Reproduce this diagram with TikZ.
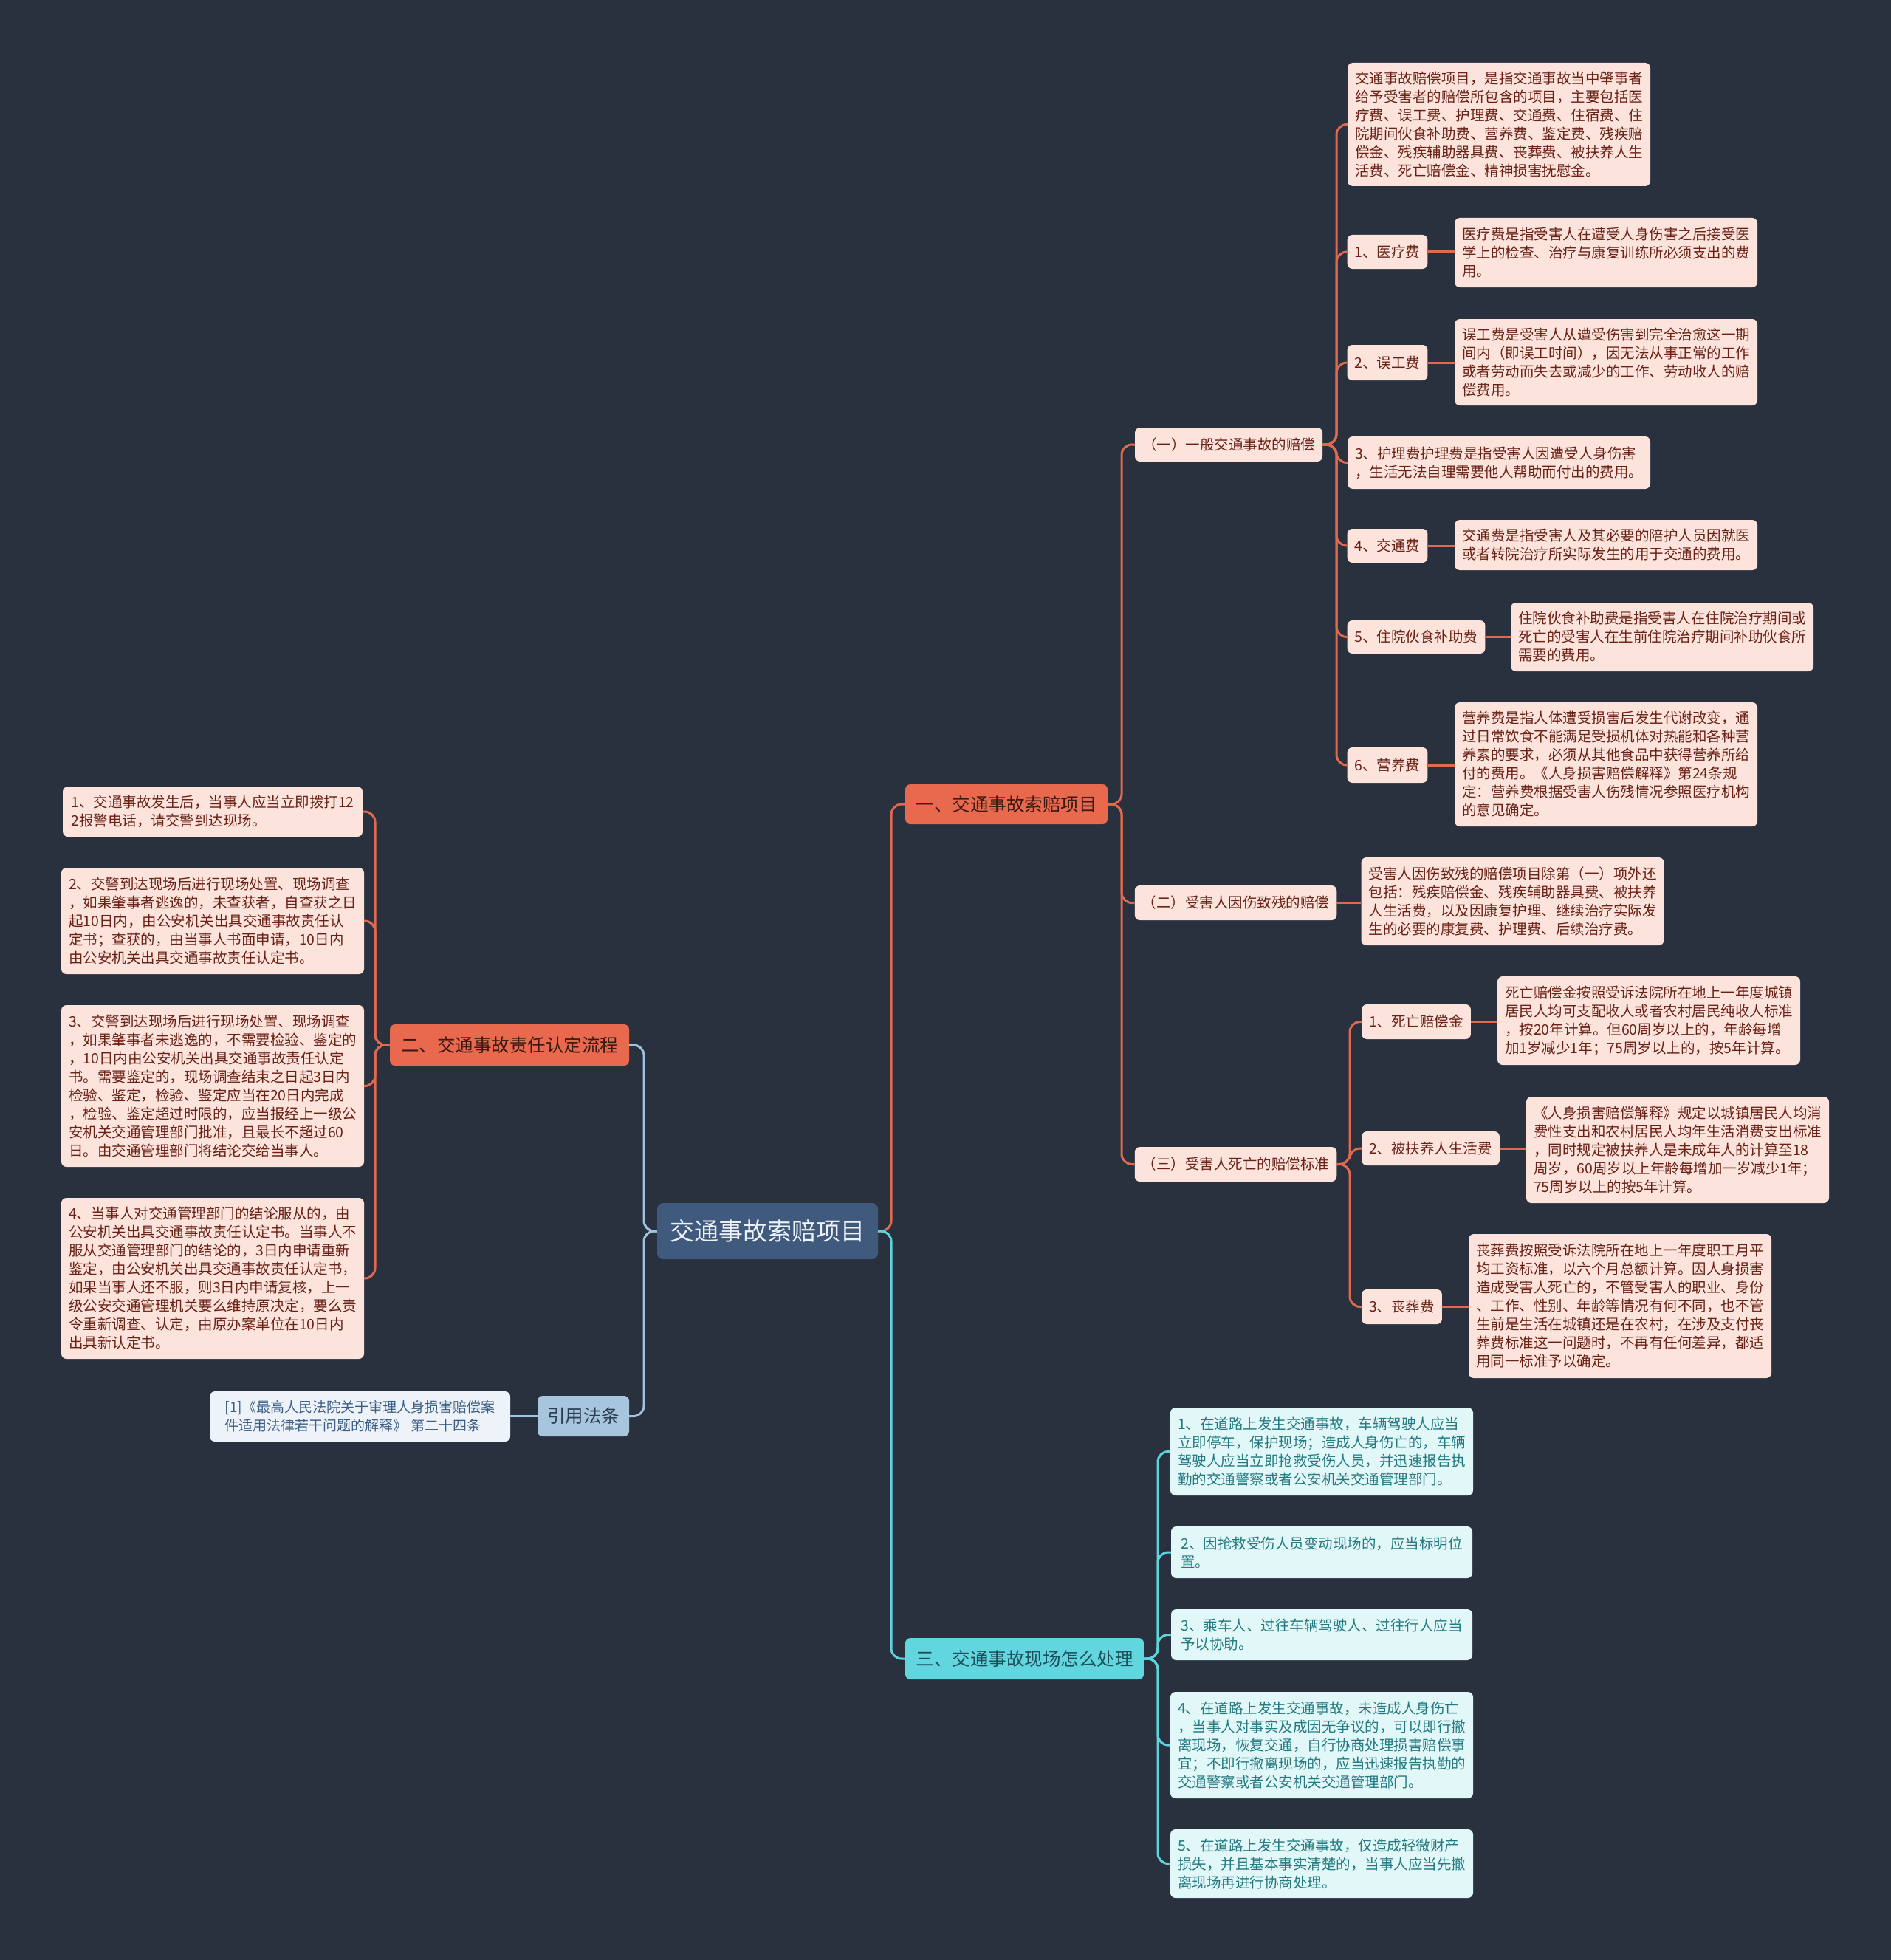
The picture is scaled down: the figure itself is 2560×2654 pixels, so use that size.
\documentclass[tikz,border=0pt]{standalone}
\usepackage{fontspec}
\setmainfont{Noto Sans CJK SC}
\definecolor{bg}{HTML}{29313F}
\definecolor{leaffill}{HTML}{FCE4DC}
\definecolor{leaftext}{HTML}{6A2116}
\definecolor{orangefill}{HTML}{E9694E}
\definecolor{orangetext}{HTML}{3A1A12}
\definecolor{orangeline}{HTML}{E0694F}
\definecolor{cyanfill}{HTML}{61D6DF}
\definecolor{cyantext}{HTML}{1D4F5A}
\definecolor{cyanleaf}{HTML}{E1F7F8}
\definecolor{cyanleaftext}{HTML}{237A80}
\definecolor{cyanline}{HTML}{5FD3DC}
\definecolor{rootfill}{HTML}{3F5A7C}
\definecolor{roottext}{HTML}{EEF2F6}
\definecolor{citefill}{HTML}{A8C5DE}
\definecolor{citetext}{HTML}{2B3D52}
\definecolor{citeleaf}{HTML}{EDF3F9}
\definecolor{citeleaftext}{HTML}{3D5F86}
\definecolor{blueline}{HTML}{9FC3DE}
\tikzset{
  box/.style={rectangle, rounded corners=7pt, align=left, inner xsep=10pt, inner ysep=2pt},
  leaf/.style={box, fill=leaffill, text=leaftext, font=\fontsize{19.5}{25}\selectfont},
  cleaf/.style={box, fill=cyanleaf, text=cyanleaftext, font=\fontsize{19.5}{25}\selectfont},
  citebox/.style={box, fill=citeleaf, text=citeleaftext, font=\fontsize{19}{25}\selectfont},
  obranch/.style={box, align=center, fill=orangefill, text=orangetext, font=\fontsize{24.5}{30}\selectfont},
  cbranch/.style={box, align=center, fill=cyanfill, text=cyantext, font=\fontsize{24.5}{30}\selectfont},
  bbranch/.style={box, align=center, fill=citefill, text=citetext, font=\fontsize{24.5}{30}\selectfont},
  rootbox/.style={box, align=center, rounded corners=8pt, fill=rootfill, text=roottext, font=\fontsize{33}{40}\selectfont},
  oline/.style={draw=orangeline, line width=3pt, rounded corners=14pt},
  cline/.style={draw=cyanline, line width=3pt, rounded corners=14pt},
  bline/.style={draw=blueline, line width=3pt, rounded corners=14pt},
}
\newcommand\mybox[7]{%
  \pgfmathsetmacro\bxcx{(#3+#5)/2}%
  \pgfmathsetmacro\bxcy{(#4+#6)/2}%
  \pgfmathsetmacro\bxw{#5-#3}%
  \pgfmathsetmacro\bxh{#6-#4}%
  \node[#2, minimum width=\bxw pt, minimum height=\bxh pt] (#1) at (\bxcx,\bxcy) {#7};}
\begin{document}
\begin{tikzpicture}[x=1pt,y=-1pt]
\useasboundingbox (0,0) rectangle (2560,2654);
\fill[bg] (-10,-10) rectangle (2570,2664);

% trunk coordinates
\coordinate (tRR) at (1207,0);
\coordinate (tRL) at (872,0);
\coordinate (tA) at (1519,0);
\coordinate (tA1) at (1810,0);
\coordinate (tA3) at (1828,0);
\coordinate (tC) at (1568,0);
\coordinate (tB) at (508,0);

% root and branches
\mybox{root}{rootbox}{890}{1629}{1189}{1705}{交通事故索赔项目}
\mybox{A}{obranch}{1226}{1062}{1500}{1116}{一、交通事故索赔项目}
\mybox{B}{obranch}{528}{1387}{852}{1443}{二、交通事故责任认定流程}
\mybox{C}{cbranch}{1226}{2218}{1549}{2274}{三、交通事故现场怎么处理}
\mybox{R}{bbranch}{728}{1890}{852}{1945}{引用法条}
\mybox{Rc}{citebox}{284}{1884}{691}{1952}{[1]《最高人民法院关于审理人身损害赔偿案\\件适用法律若干问题的解释》 第二十四条}

% level 2 under A
\mybox{A1}{leaf}{1537}{579}{1791}{625}{（一）一般交通事故的赔偿}
\mybox{A2}{leaf}{1537}{1199}{1810}{1246}{（二）受害人因伤致残的赔偿}
\mybox{A2d}{leaf}{1845}{1161}{2252}{1280}{受害人因伤致残的赔偿项目除第（一）项外还\\包括：残疾赔偿金、残疾辅助器具费、被扶养\\人生活费，以及因康复护理、继续治疗实际发\\生的必要的康复费、护理费、后续治疗费。}
\mybox{A3}{leaf}{1537}{1553}{1810}{1600}{（三）受害人死亡的赔偿标准}

% children of A1
\mybox{a0}{leaf}{1825}{85}{2235}{252}{交通事故赔偿项目，是指交通事故当中肇事者\\给予受害者的赔偿所包含的项目，主要包括医\\疗费、误工费、护理费、交通费、住宿费、住\\院期间伙食补助费、营养费、鉴定费、残疾赔\\偿金、残疾辅助器具费、丧葬费、被扶养人生\\活费、死亡赔偿金、精神损害抚慰金。}
\mybox{a1}{leaf}{1825}{318}{1933}{364}{1、医疗费}
\mybox{a1d}{leaf}{1971}{295}{2379}{389}{医疗费是指受害人在遭受人身伤害之后接受医\\学上的检查、治疗与康复训练所必须支出的费\\用。}
\mybox{a2}{leaf}{1825}{467}{1933}{515}{2、误工费}
\mybox{a2d}{leaf}{1971}{432}{2379}{549}{误工费是受害人从遭受伤害到完全治愈这一期\\间内（即误工时间），因无法从事正常的工作\\或者劳动而失去或减少的工作、劳动收人的赔\\偿费用。}
\mybox{a3}{leaf}{1825}{591}{2235}{662}{3、护理费护理费是指受害人因遭受人身伤害\\，生活无法自理需要他人帮助而付出的费用。}
\mybox{a4}{leaf}{1825}{716}{1933}{762}{4、交通费}
\mybox{a4d}{leaf}{1971}{704}{2379}{772}{交通费是指受害人及其必要的陪护人员因就医\\或者转院治疗所实际发生的用于交通的费用。}
\mybox{a5}{leaf}{1825}{840}{2011}{885}{5、住院伙食补助费}
\mybox{a5d}{leaf}{2047}{816}{2455}{909}{住院伙食补助费是指受害人在住院治疗期间或\\死亡的受害人在生前住院治疗期间补助伙食所\\需要的费用。}
\mybox{a6}{leaf}{1825}{1012}{1933}{1060}{6、营养费}
\mybox{a6d}{leaf}{1971}{951}{2379}{1119}{营养费是指人体遭受损害后发生代谢改变，通\\过日常饮食不能满足受损机体对热能和各种营\\养素的要求，必须从其他食品中获得营养所给\\付的费用。《人身损害赔偿解释》第24条规\\定：营养费根据受害人伤残情况参照医疗机构\\的意见确定。}

% children of A3
\mybox{e1}{leaf}{1845}{1360}{1991}{1407}{1、死亡赔偿金}
\mybox{e1d}{leaf}{2030}{1322}{2436}{1442}{死亡赔偿金按照受诉法院所在地上一年度城镇\\居民人均可支配收人或者农村居民纯收人标准\\，按20年计算。但60周岁以上的，年龄每增\\加1岁减少1年；75周岁以上的，按5年计算。}
\mybox{e2}{leaf}{1845}{1532}{2030}{1578}{2、被扶养人生活费}
\mybox{e2d}{leaf}{2069}{1485}{2475}{1629}{《人身损害赔偿解释》规定以城镇居民人均消\\费性支出和农村居民人均年生活消费支出标准\\，同时规定被扶养人是未成年人的计算至18\\周岁，60周岁以上年龄每增加一岁减少1年；\\75周岁以上的按5年计算。}
\mybox{e3}{leaf}{1845}{1746}{1952}{1793}{3、丧葬费}
\mybox{e3d}{leaf}{1991}{1671}{2397}{1866}{丧葬费按照受诉法院所在地上一年度职工月平\\均工资标准，以六个月总额计算。因人身损害\\造成受害人死亡的，不管受害人的职业、身份\\、工作、性别、年龄等情况有何不同，也不管\\生前是生活在城镇还是在农村，在涉及支付丧\\葬费标准这一问题时，不再有任何差异，都适\\用同一标准予以确定。}

% children of C
\mybox{c1}{cleaf}{1586}{1906}{1994}{2025}{1、在道路上发生交通事故，车辆驾驶人应当\\立即停车，保护现场；造成人身伤亡的，车辆\\驾驶人应当立即抢救受伤人员，并迅速报告执\\勤的交通警察或者公安机关交通管理部门。}
\mybox{c2}{cleaf}{1586}{2067}{1994}{2137}{2、因抢救受伤人员变动现场的，应当标明位\\置。}
\mybox{c3}{cleaf}{1586}{2179}{1994}{2248}{3、乘车人、过往车辆驾驶人、过往行人应当\\予以协助。}
\mybox{c4}{cleaf}{1586}{2291}{1994}{2435}{4、在道路上发生交通事故，未造成人身伤亡\\，当事人对事实及成因无争议的，可以即行撤\\离现场，恢复交通，自行协商处理损害赔偿事\\宜；不即行撤离现场的，应当迅速报告执勤的\\交通警察或者公安机关交通管理部门。}
\mybox{c5}{cleaf}{1586}{2477}{1994}{2570}{5、在道路上发生交通事故，仅造成轻微财产\\损失，并且基本事实清楚的，当事人应当先撤\\离现场再进行协商处理。}

% children of B
\mybox{b1}{leaf}{85}{1065}{491}{1133}{1、交通事故发生后，当事人应当立即拨打12\\2报警电话，请交警到达现场。}
\mybox{b2}{leaf}{85}{1175}{491}{1319}{2、交警到达现场后进行现场处置、现场调查\\，如果肇事者逃逸的，未查获者，自查获之日\\起10日内，由公安机关出具交通事故责任认\\定书；查获的，由当事人书面申请，10日内\\由公安机关出具交通事故责任认定书。}
\mybox{b3}{leaf}{85}{1361}{491}{1580}{3、交警到达现场后进行现场处置、现场调查\\，如果肇事者未逃逸的，不需要检验、鉴定的\\，10日内由公安机关出具交通事故责任认定\\书。需要鉴定的，现场调查结束之日起3日内\\检验、鉴定，检验、鉴定应当在20日内完成\\，检验、鉴定超过时限的，应当报经上一级公\\安机关交通管理部门批准，且最长不超过60\\日。由交通管理部门将结论交给当事人。}
\mybox{b4}{leaf}{85}{1622}{491}{1840}{4、当事人对交通管理部门的结论服从的，由\\公安机关出具交通事故责任认定书。当事人不\\服从交通管理部门的结论的，3日内申请重新\\鉴定，由公安机关出具交通事故责任认定书，\\如果当事人还不服，则3日内申请复核，上一\\级公安交通管理机关要么维持原决定，要么责\\令重新调查、认定，由原办案单位在10日内\\出具新认定书。}

% connectors
\path[oline] (root.east) -- (root.east -| tRR) |- (A.west);
\path[cline] (root.east) -- (root.east -| tRR) |- (C.west);
\path[bline] (root.west) -- (root.west -| tRL) |- (B.east);
\path[bline] (root.west) -- (root.west -| tRL) |- (R.east);
\path[bline] (R.west) -- (R.west -| Rc.east);

\foreach \n in {A1,A2,A3}{\path[oline] (A.east) -- (A.east -| tA) |- (\n.west);}
\foreach \n in {a0,a1,a2,a3,a4,a5,a6}{\path[oline] (A1.east) -- (A1.east -| tA1) |- (\n.west);}
\foreach \n in {e1,e2,e3}{\path[oline] (A3.east) -- (A3.east -| tA3) |- (\n.west);}
\foreach \n in {c1,c2,c3,c4,c5}{\path[cline] (C.east) -- (C.east -| tC) |- (\n.west);}
\foreach \n in {b1,b2,b3,b4}{\path[oline] (B.west) -- (B.west -| tB) |- (\n.east);}

\path[oline] (A2.east) -- (A2.east -| A2d.west);
\foreach \n in {a1,a2,a4,a5,a6,e1,e2,e3}{\path[oline] (\n.east) -- (\n.east -| \n d.west);}
\end{tikzpicture}
\end{document}
